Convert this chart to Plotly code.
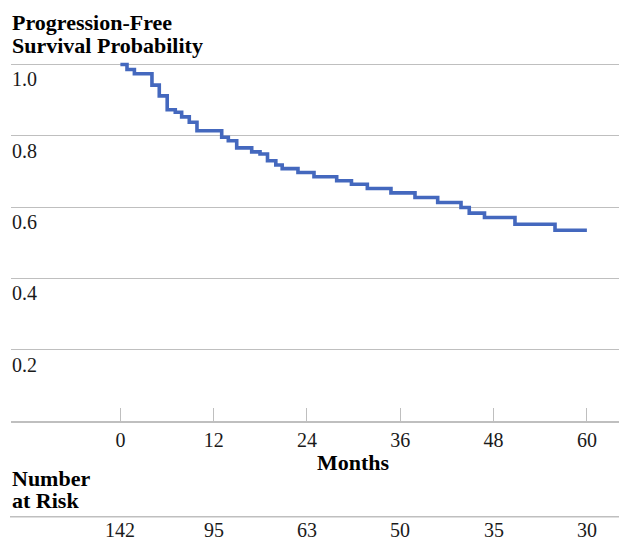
import plotly.graph_objects as go

# Kaplan-Meier curve (months, survival probability)
months = [0, 0.85, 1.8, 4.06, 5.0, 6.02, 7.06, 7.88, 8.86, 9.85, 13.03, 13.88,
          14.96, 16.89, 17.96, 18.92, 19.99, 20.81, 22.84, 24.9, 27.82, 29.72,
          31.76, 34.8, 37.89, 40.81, 43.81, 44.87, 46.83, 50.75, 55.9, 60]
survival = [1.0, 0.986, 0.974, 0.942, 0.912, 0.873, 0.866, 0.853, 0.838, 0.814,
            0.796, 0.786, 0.766, 0.755, 0.749, 0.730, 0.718, 0.708, 0.697, 0.685,
            0.674, 0.664, 0.652, 0.640, 0.627, 0.613, 0.599, 0.583, 0.571, 0.552,
            0.535, 0.535]

x_ticks = [0, 12, 24, 36, 48, 60]
y_ticks = [0.2, 0.4, 0.6, 0.8, 1.0]
y_tick_labels = ["0.2", "0.4", "0.6", "0.8", "1.0"]

risk_times = [0, 12, 24, 36, 48, 60]
at_risk = [142, 95, 63, 50, 35, 30]

FONT = "Liberation Serif"
GRID = "#bfbfbf"
TXT = "#1a1a1a"

fig = go.Figure()
fig.add_trace(go.Scatter(
    x=months, y=survival, mode="lines", line_shape="hv",
    line=dict(color="#4468BE", width=3.6), showlegend=False, hoverinfo="skip"))

# geometry: y=0 at 421px, 357px per unit
H_BOT = 421
UNIT = 357
Y_TOP = 1.035
H_TOP = H_BOT - UNIT * Y_TOP

def py(p):
    return (H_BOT - p) / (H_BOT - H_TOP)

def px(p):
    return (p - 11) / 608

annos = []
for text, xx, yy in [("<b>Progression-Free</b>", 10, 22),
                     ("<b>Survival Probability</b>", 10, 45),
                     ("<b>Number</b>", 10, 479),
                     ("<b>at Risk</b>", 10, 501)]:
    annos.append(dict(text=text, x=px(xx), y=py(yy), xref="paper", yref="paper",
                      xanchor="left", yanchor="middle", showarrow=False,
                      font=dict(family=FONT, size=22, color="#000")))
annos.append(dict(text="<b>Months</b>", x=30, y=py(463), xref="x", yref="paper",
                  xanchor="center", yanchor="middle", showarrow=False,
                  font=dict(family=FONT, size=22, color="#000")))
for t, n in zip(risk_times, at_risk):
    annos.append(dict(text=str(n), x=t, y=py(530), xref="x", yref="paper",
                      xanchor="center", yanchor="middle", showarrow=False,
                      font=dict(family=FONT, size=20, color=TXT)))

fig.update_layout(
    width=619, height=544,
    margin=dict(l=11, r=0, t=H_TOP, b=544 - H_BOT, autoexpand=False),
    paper_bgcolor="white", plot_bgcolor="white",
    annotations=annos,
    shapes=[dict(type="line", xref="paper", yref="paper", x0=px(10), x1=1,
                 y0=py(517), y1=py(517), line=dict(color=GRID, width=1.5))],
    xaxis=dict(range=[-14.07, 64.13], tickvals=x_ticks, ticktext=[str(v) for v in x_ticks],
               showgrid=False, zeroline=False, showline=True, linecolor=GRID, linewidth=1.5,
               ticks="inside", ticklen=13, tickwidth=1.3, tickcolor=GRID,
               tickfont=dict(family=FONT, size=20, color=TXT)),
    yaxis=dict(range=[0, Y_TOP], tickvals=y_ticks, ticktext=y_tick_labels,
               showgrid=True, gridcolor=GRID, gridwidth=1.3, zeroline=False, showline=False,
               ticks="", ticklabelposition="inside", ticklabelshift=15, ticklabelstandoff=-2,
               tickfont=dict(family=FONT, size=20, color=TXT)),
)

fig.write_html("out.html", config={"displayModeBar": False},
               post_script="document.body.style.margin='0px';")
